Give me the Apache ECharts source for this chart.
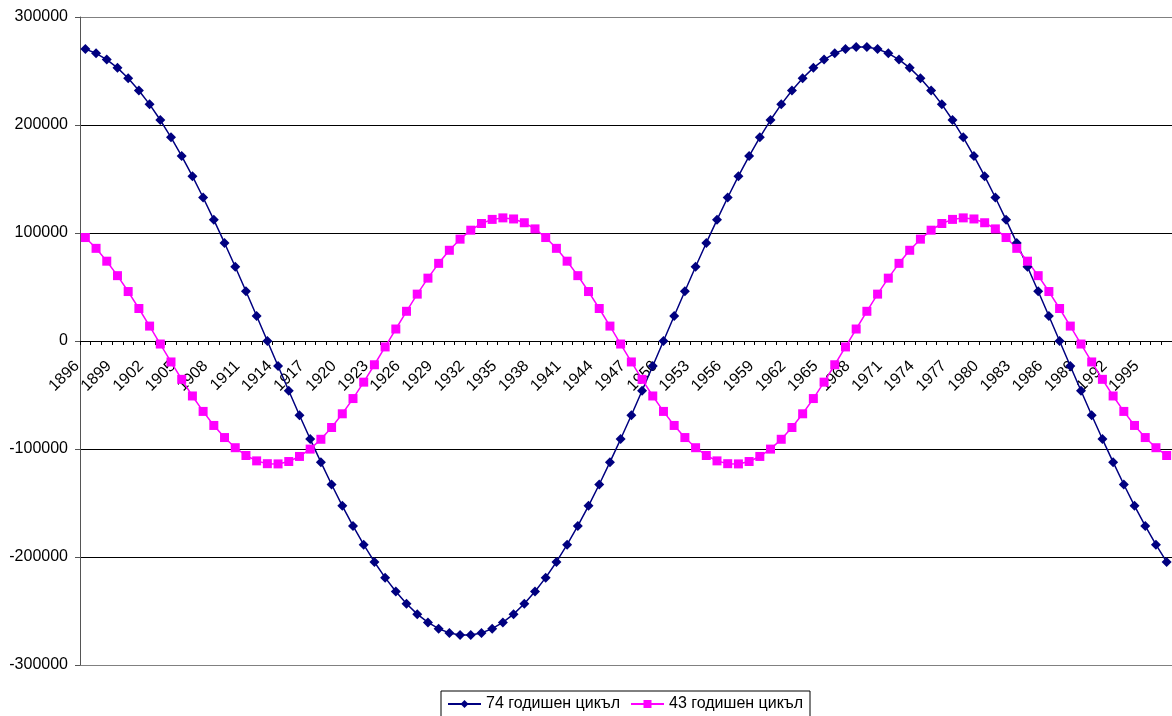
<!DOCTYPE html>
<html>
<head>
<meta charset="utf-8">
<script src="https://cdn.jsdelivr.net/npm/echarts@6/dist/echarts.min.js"></script>
<style>
html,body{margin:0;padding:0;background:#fff;}
#chart{width:1172px;height:716px;}
</style>
</head>
<body>
<div id="chart"></div>
<script>
const years = [
'1896','1897','1898','1899','1900','1901','1902','1903','1904','1905',
'1906','1907','1908','1909','1910','1911','1912','1913','1914','1915',
'1916','1917','1918','1919','1920','1921','1922','1923','1924','1925',
'1926','1927','1928','1929','1930','1931','1932','1933','1934','1935',
'1936','1937','1938','1939','1940','1941','1942','1943','1944','1945',
'1946','1947','1948','1949','1950','1951','1952','1953','1954','1955',
'1956','1957','1958','1959','1960','1961','1962','1963','1964','1965',
'1966','1967','1968','1969','1970','1971','1972','1973','1974','1975',
'1976','1977','1978','1979','1980','1981','1982','1983','1984','1985',
'1986','1987','1988','1989','1990','1991','1992','1993','1994','1995',
'1996','1997'
];

const cycle74 = [
270300, 266400, 260600, 252900, 243300, 232000, 219100, 204600, 188600, 171200,
152600, 132900, 112200, 90800, 68700, 46100, 23100, 0,
-23100, -46100, -68700, -90800, -112200, -132900, -152600, -171200, -188600, -204600,
-219100, -232000, -243300, -252900, -260600, -266400, -270300, -272300,
-272300, -270300, -266400, -260600, -252900, -243300, -232000, -219100, -204600, -188600,
-171200, -152600, -132900, -112200, -90800, -68700, -46100, -23100,
0,
23100, 46100, 68700, 90800, 112200, 132900, 152600, 171200, 188600, 204600,
219100, 232000, 243300, 252900, 260600, 266400, 270300, 272300,
272300, 270300, 266400, 260600, 252900, 243300, 232000, 219100, 204600, 188600,
171200, 152600, 132900, 112200, 90800, 68700, 46100, 23100,
0,
-23100, -46100, -68700, -90800, -112200, -132900, -152600, -171200, -188600, -204600
];

const cycle43 = [
95800, 85800, 73900, 60500, 45800, 30100, 13800, -2800, -19400, -35500,
-50900, -65200, -78200, -89400, -98800, -106000, -111000, -113600, -113800, -111600,
-106900, -100100, -91000, -80100, -67400, -53300, -38100, -22000, -5500, 11100,
27500, 43400, 58200, 71900, 84000, 94300, 102600, 108800, 112600, 114000,
113000, 109500, 103800,
95800, 85800, 73900, 60500, 45800, 30100, 13800, -2800, -19400, -35500,
-50900, -65200, -78200, -89400, -98800, -106000, -111000, -113600, -113800, -111600,
-106900, -100100, -91000, -80100, -67400, -53300, -38100, -22000, -5500, 11100,
27500, 43400, 58200, 71900, 84000, 94300, 102600, 108800, 112600, 114000,
113000, 109500, 103800,
95800, 85800, 73900, 60500, 45800, 30100, 13800, -2800, -19400, -35500,
-50900, -65200, -78200, -89400, -98800, -106000
];

const seriesNames = ['74 годишен цикъл', '43 годишен цикъл'];
const yTicks = { min: -300000, max: 300000, interval: 100000 };

const chart = echarts.init(document.getElementById('chart'), null, { renderer: 'canvas' });
const FONT = '"Liberation Sans", Arial, sans-serif';

chart.setOption({
  animation: false,
  backgroundColor: '#ffffff',
  grid: { left: 80, top: 17, width: 1093, height: 648, containLabel: false },
  legend: {
    data: seriesNames,
    left: 441,
    top: 691,
    orient: 'horizontal',
    padding: [5, 7, 5, 6],
    itemGap: 10,
    itemWidth: 33,
    itemHeight: 10,
    borderColor: '#000000',
    borderWidth: 1,
    borderRadius: 0,
    textStyle: { fontFamily: FONT, fontSize: 16, color: '#000' }
  },
  xAxis: {
    type: 'category',
    data: years,
    boundaryGap: true,
    offset: -324,
    axisLine: { onZero: false, lineStyle: { color: '#000', width: 1 } },
    axisTick: { show: true, interval: 0, length: 4, lineStyle: { color: '#000' } },
    axisLabel: {
      interval: 2,
      rotate: 45,
      margin: 14,
      padding: [0, 12, 0, 0],
      fontFamily: FONT,
      fontSize: 16,
      color: '#000'
    },
    splitLine: { show: false }
  },
  yAxis: {
    type: 'value',
    min: yTicks.min,
    max: yTicks.max,
    interval: yTicks.interval,
    axisLine: { show: true, lineStyle: { color: '#555', width: 1 } },
    axisTick: { show: true, length: 5, lineStyle: { color: '#555' } },
    axisLabel: {
      margin: 12,
      fontFamily: FONT,
      fontSize: 16,
      color: '#000',
      formatter: function (v) { return String(v); }
    },
    splitLine: {
      show: true,
      lineStyle: { color: ['#808080', '#000', '#000', '#000', '#000', '#000', '#808080'], width: 1 }
    }
  },
  series: [
    {
      name: seriesNames[0],
      type: 'line',
      data: cycle74,
      symbol: 'diamond',
      symbolSize: 10,
      showAllSymbol: true,
      itemStyle: { color: '#000080' },
      lineStyle: { color: '#000080', width: 1.5 }
    },
    {
      name: seriesNames[1],
      type: 'line',
      data: cycle43,
      symbol: 'rect',
      symbolSize: 9,
      showAllSymbol: true,
      itemStyle: { color: '#FF00FF' },
      lineStyle: { color: '#FF00FF', width: 1.5 }
    }
  ]
});
</script>
</body>
</html>
